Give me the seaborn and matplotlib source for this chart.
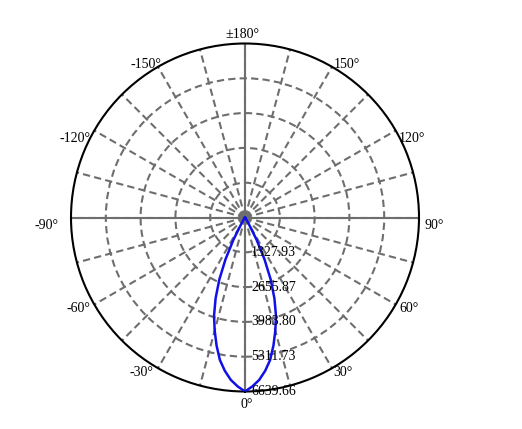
import numpy as np
import pandas as pd
import matplotlib
matplotlib.use('Agg')
import matplotlib.pyplot as plt
import seaborn as sns

# 配光データ (cd) - 0°から180°まで、左右対称
angle_deg = [0, 2.5, 5, 7.5, 10, 12.5, 15, 17.5, 20, 22.5, 25, 27.5, 30, 32.5, 35,
             40, 45, 50, 60, 70, 80, 90, 100, 120, 140, 160, 180]
intensity = [6640, 6450, 6220, 5900, 5520, 5010, 4470, 3930, 3280, 2560, 1760, 950, 300, 110, 40,
             15, 8, 5, 5, 5, 5, 5, 5, 5, 5, 5, 5]

ring_values = [1327.93, 2655.87, 3983.80, 5311.73, 6639.66]
ring_labels = ['1327.93', '2655.87', '3983.80', '5311.73', '6639.66']

label_angles = [0, 30, 60, 90, 120, 150, 180, -150, -120, -90, -60, -30]
label_texts = ['0°', '30°', '60°', '90°', '120°', '150°', '±180°',
               '-150°', '-120°', '-90°', '-60°', '-30°']
main_axes = [0, 90, 180, 270]

# 左右に展開
full_deg = [-a for a in angle_deg[::-1]] + angle_deg[1:]
full_cd = intensity[::-1] + intensity[1:]
df = pd.DataFrame({'theta': np.deg2rad(full_deg), 'cd': full_cd})

sns.set_style('white')
plt.rcParams['font.family'] = ['Liberation Serif', 'DejaVu Serif']
plt.rcParams['text.color'] = 'black'

fig = plt.figure(figsize=(5.22, 4.29), dpi=100)
ax = fig.add_axes([0.13602, 0.08741, 0.66667, 0.81119], projection='polar')
ax.set_theta_zero_location('S')
ax.set_theta_direction(1)

grid_color = '#6e6e6e'
ax.set_xticks(np.deg2rad(np.arange(0, 360, 15)))
ax.set_xticklabels([])
ax.set_yticks(ring_values[:-1])
ax.set_yticklabels([])
ax.set_ylim(0, ring_values[-1])
ax.grid(True, color=grid_color, ls=(0, (3.5, 2)), lw=1.5)
ax.spines['polar'].set_color('black')
ax.spines['polar'].set_linewidth(1.5)

# 主軸は実線
for a in main_axes:
    ax.axvline(np.deg2rad(a), color=grid_color, lw=1.5, zorder=2)

sns.lineplot(data=df, x='theta', y='cd', ax=ax, color='#1010e8', lw=1.8,
             sort=False, estimator=None, zorder=5)
ax.set_xlabel('')
ax.set_ylabel('')

# 角度ラベル
for a, t in zip(label_angles, label_texts):
    s = np.sin(np.deg2rad(a))
    c = np.cos(np.deg2rad(a))
    if c < -0.8:
        dy = 2
    elif c < 0.1:
        dy = -8
    else:
        dy = -4
    if abs(a) == 180:
        ha, va, off = 'center', 'bottom', (-3, 3)
    elif a == 0:
        ha, va, off = 'center', 'top', (2, -6)
    elif s > 0:
        ha, va, off = 'left', 'center', (1 + 4 * s ** 4, dy)
    else:
        if abs(s) > 0.99:
            dx = -13
        elif abs(s) > 0.8:
            dx = -4
        elif c < 0:
            dx = 3
        else:
            dx = -5
        ha, va, off = 'right', 'center', (dx, dy)
    ax.annotate(t, xy=(np.deg2rad(a), ring_values[-1]), xytext=off,
                textcoords='offset pixels', ha=ha, va=va, fontsize=10,
                color='black', annotation_clip=False)

# 強度ラベル
for r, t in zip(ring_values, ring_labels):
    ax.annotate(t, xy=(0, r), xytext=(6, 0), textcoords='offset pixels',
                ha='left', va='center', fontsize=10, color='black', zorder=6,
                annotation_clip=False)

fig.savefig('out.png', dpi=100)
